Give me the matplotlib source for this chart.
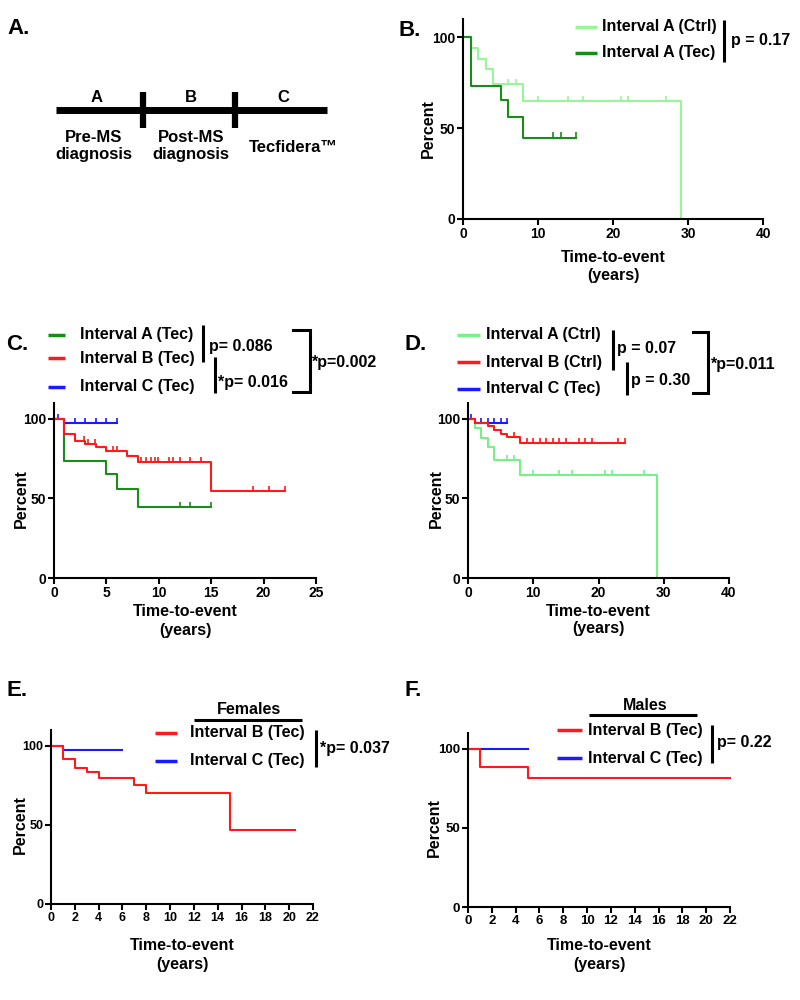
import matplotlib
matplotlib.use('Agg')
import matplotlib.pyplot as plt
import numpy as np

plt.rcParams['font.family'] = ['Liberation Sans', 'DejaVu Sans']
plt.rcParams['font.weight'] = 'bold'

# Kaplan-Meier curves (time in years, percent event-free)
ctrl_a_t = [0, 1, 2, 3, 4, 8, 29]
ctrl_a_s = [100, 94.1, 88.2, 82.4, 74.3, 65.0, 0]
ctrl_a_cens = [6, 7, 10, 14, 16, 21, 22, 27]

tec_a_t = [0, 1, 5, 6, 8, 15]
tec_a_s = [100, 73.3, 65.2, 55.9, 44.8, 44.8]
tec_a_cens = [12, 13, 15]

tec_b_t = [0, 1, 2, 3, 4, 5, 7, 8, 15, 22]
tec_b_s = [100, 90.4, 86.2, 84.3, 82.4, 80.1, 77.0, 73.2, 55.0, 55.0]
tec_b_cens = [2.9, 3.2, 3.9, 5.6, 6.0, 8.3, 8.8, 9.3, 9.6, 9.9, 11.0, 11.4,
              12, 13, 14, 19, 20.5, 22]

tec_c_t = [0, 1, 6]
tec_c_s = [100, 97.7, 97.7]
tec_c_cens = [0.4, 2, 3, 4, 5, 6]

ctrl_b_t = [0, 1, 3, 4, 5, 6, 8, 24]
ctrl_b_s = [100, 97.5, 95.3, 93.0, 90.7, 88.4, 85.0, 85.0]
ctrl_b_cens = [7, 9, 10, 11, 12, 13, 14, 15, 17, 18, 19, 23, 24]

fem_b_t = [0, 1, 2, 3, 4, 7, 8, 15, 20.5]
fem_b_s = [100, 91.6, 86.1, 83.2, 79.8, 75.2, 70.4, 46.6, 46.6]
fem_c_t = [0, 1, 6]
fem_c_s = [100, 97.3, 97.3]

male_b_t = [0, 1, 5, 22]
male_b_s = [100, 88.2, 81.4, 81.4]
male_c_t = [0, 5]
male_c_s = [100, 100]

LGREEN_B = '#99f599'
LGREEN_D = '#77f088'
DGREEN = '#1a8c1a'
RED = '#ff1a1a'
BLUE = '#1a1aff'

W, H = 800, 1000
fig = plt.figure(figsize=(8, 10), dpi=100)


def px_axes(l, r, t, b):
    return fig.add_axes([l / W, 1 - b / H, (r - l) / W, (b - t) / H])


def km(ax, t, s, cens, color):
    ax.step(t, s, where='post', color=color, lw=1.5, clip_on=False)
    if cens:
        idx = np.searchsorted(t, cens, side='right') - 1
        ys = np.array(s)[np.clip(idx, 0, len(s) - 1)]
        ax.plot(cens, ys + 1.2, ls='none', marker='|', ms=4, mew=1.2,
                color=color, clip_on=False)


def style(ax, xmax, xticks, xlab_off, ylab_off, tsize=10):
    ax.set_xlim(0, xmax)
    ax.set_ylim(0, 110)
    ax.set_xticks(xticks)
    ax.set_yticks([0, 50, 100])
    for sp in ['top', 'right']:
        ax.spines[sp].set_visible(False)
    for sp in ['left', 'bottom']:
        ax.spines[sp].set_linewidth(1.5)
    ax.tick_params(direction='out', length=4, width=1.5, labelsize=tsize,
                   pad=1.5)
    ax.text(0.5, xlab_off, 'Time-to-event\n(years)', transform=ax.transAxes,
            ha='center', va='center', fontsize=11.5, linespacing=1.25)
    ax.text(ylab_off, 50 / 110, 'Percent', transform=ax.transAxes,
            rotation=90, ha='center', va='center', fontsize=11.5)


# B
axB = px_axes(463, 763, 19, 219)
km(axB, ctrl_a_t, ctrl_a_s, ctrl_a_cens, LGREEN_B)
km(axB, tec_a_t, tec_a_s, tec_a_cens, DGREEN)
style(axB, 40, [0, 10, 20, 30, 40], -47.5 / 200, -35 / 300)

# C
axC = px_axes(54, 316, 403, 578)
km(axC, tec_a_t, tec_a_s, tec_a_cens, DGREEN)
km(axC, tec_c_t, tec_c_s, tec_c_cens, BLUE)
km(axC, tec_b_t, tec_b_s, tec_b_cens, RED)
style(axC, 25, [0, 5, 10, 15, 20, 25], -43 / 175, -33 / 262)

# D
axD = px_axes(468, 729, 403, 578)
km(axD, ctrl_a_t, ctrl_a_s, ctrl_a_cens, LGREEN_D)
km(axD, tec_c_t, tec_c_s, tec_c_cens, BLUE)
km(axD, ctrl_b_t, ctrl_b_s, ctrl_b_cens, RED)
style(axD, 40, [0, 10, 20, 30, 40], -42 / 175, -32 / 261)

# E
axE = px_axes(51, 313, 730, 904)
km(axE, fem_c_t, fem_c_s, None, BLUE)
km(axE, fem_b_t, fem_b_s, None, RED)
style(axE, 22, list(range(0, 23, 2)), -51 / 174, -31 / 262, tsize=9)

# F
axF = px_axes(468, 730, 733, 907)
km(axF, male_c_t, male_c_s, None, BLUE)
km(axF, male_b_t, male_b_s, None, RED)
style(axF, 22, list(range(0, 23, 2)), -48 / 174, -34 / 262, tsize=9.5)

# overlay in pixel coordinates for panel A, legends and brackets
ov = fig.add_axes([0, 0, 1, 1], zorder=10)
ov.set_xlim(0, W)
ov.set_ylim(H, 0)
ov.axis('off')
ov.patch.set_visible(False)

for x, y, lab in [(7, 28, 'A.'), (399, 31, 'B.'), (6, 344, 'C.'),
                  (404, 344, 'D.'), (7, 690, 'E.'), (404, 690, 'F.')]:
    ov.text(x, y, lab, fontsize=16, ha='left', va='center')

# Panel A timeline
ov.plot([56, 327], [110, 110], color='black', lw=5, solid_capstyle='butt')
for x in [143, 235]:
    ov.plot([x, x], [92, 128], color='black', lw=4.5, solid_capstyle='butt')
for x, lab in [(97, 'A'), (191, 'B'), (283, 'C')]:
    ov.text(x, 97, lab, fontsize=12, ha='center', va='center')
ov.text(94, 146, 'Pre-MS\ndiagnosis', fontsize=12, ha='center', va='center',
        linespacing=1.15)
ov.text(191, 146, 'Post-MS\ndiagnosis', fontsize=12, ha='center', va='center',
        linespacing=1.15)
ov.text(293, 148, 'Tecfidera™', fontsize=12, ha='center', va='center')

LFS = 11.5


def leg(x0, x1, y, color, label, tx):
    ov.plot([x0, x1], [y, y], color=color, lw=2.5, solid_capstyle='butt')
    ov.text(tx, y, label, fontsize=LFS, ha='left', va='center')


def vbar(x, y0, y1):
    ov.plot([x, x], [y0, y1], color='black', lw=2.2, solid_capstyle='butt')


def bracket(x, xl, y0, y1):
    ov.plot([xl, x, x, xl], [y0, y0, y1, y1], color='black', lw=2.2,
            solid_joinstyle='miter')


# B legend
leg(575, 597, 27, LGREEN_B, 'Interval A (Ctrl)', 602)
leg(575, 597, 53, DGREEN, 'Interval A (Tec)', 602)
vbar(724, 20, 62)
ov.text(731, 40, 'p = 0.17', fontsize=LFS, ha='left', va='center')

# C legend
leg(48, 65, 335, DGREEN, 'Interval A (Tec)', 80)
leg(48, 65, 358, RED, 'Interval B (Tec)', 80)
leg(48, 65, 387, BLUE, 'Interval C (Tec)', 80)
vbar(203, 325, 362)
ov.text(209, 346, 'p= 0.086', fontsize=LFS, ha='left', va='center')
vbar(215, 357, 393)
ov.text(218, 382, '*p= 0.016', fontsize=LFS, ha='left', va='center')
bracket(310, 293, 330, 392)
ov.text(312, 363, '*p=0.002', fontsize=LFS, ha='left', va='center')

# D legend
leg(457, 480, 335, LGREEN_D, 'Interval A (Ctrl)', 486)
leg(457, 480, 362, RED, 'Interval B (Ctrl)', 486)
leg(457, 480, 389, BLUE, 'Interval C (Tec)', 486)
vbar(613, 330, 370)
ov.text(617, 349, 'p = 0.07', fontsize=LFS, ha='left', va='center')
vbar(627, 362, 395)
ov.text(631, 380, 'p = 0.30', fontsize=LFS, ha='left', va='center')
bracket(708, 693, 332, 393)
ov.text(711, 364, '*p=0.011', fontsize=LFS, ha='left', va='center')

# E legend
ov.text(249, 709, 'Females', fontsize=LFS, ha='center', va='center')
ov.plot([194, 302], [720, 720], color='black', lw=2.2, solid_capstyle='butt')
leg(155, 177, 733, RED, 'Interval B (Tec)', 190)
leg(155, 177, 761, BLUE, 'Interval C (Tec)', 190)
vbar(316, 730, 767)
ov.text(320, 749, '*p= 0.037', fontsize=LFS, ha='left', va='center')

# F legend
ov.text(645, 705, 'Males', fontsize=LFS, ha='center', va='center')
ov.plot([589, 697], [715, 715], color='black', lw=2.2, solid_capstyle='butt')
leg(557, 582, 730, RED, 'Interval B (Tec)', 588)
leg(557, 582, 758, BLUE, 'Interval C (Tec)', 588)
vbar(712, 725, 763)
ov.text(717, 743, 'p= 0.22', fontsize=LFS, ha='left', va='center')

fig.savefig('out.png', dpi=100)
